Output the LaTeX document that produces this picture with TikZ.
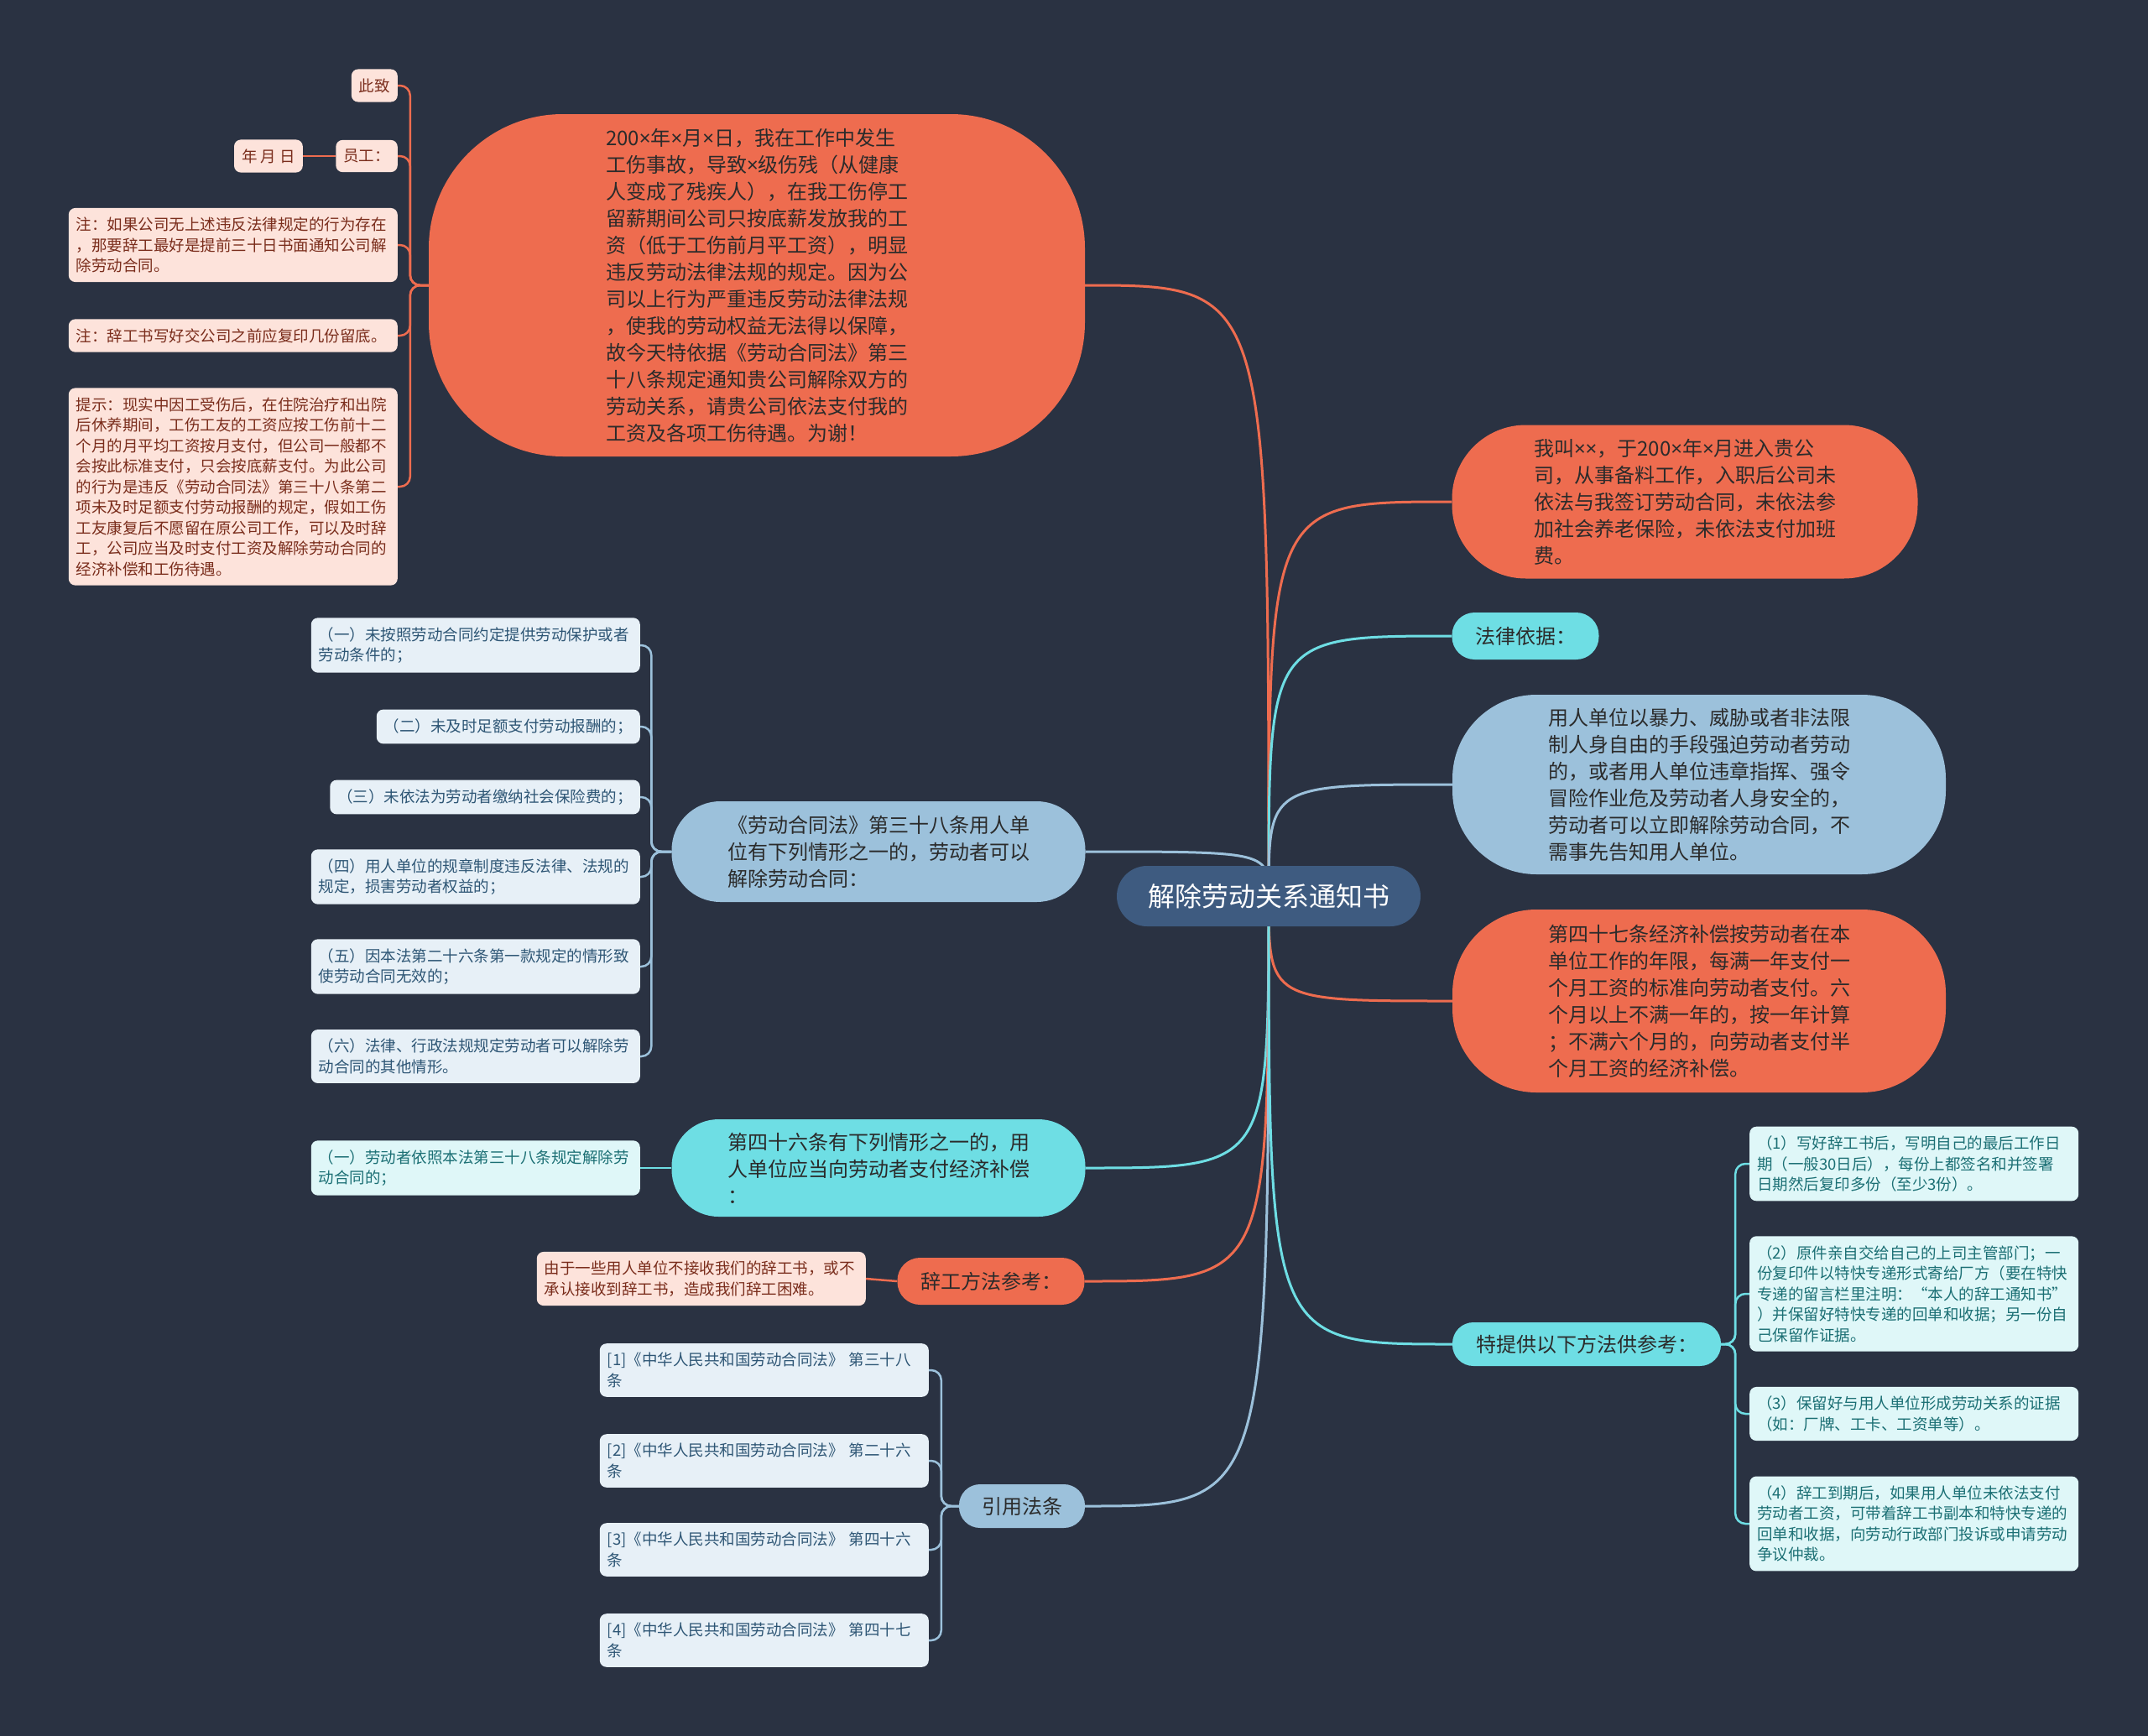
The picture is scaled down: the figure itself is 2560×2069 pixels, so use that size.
\documentclass[tikz,border=0pt]{standalone}
\usepackage{fontspec}
\usepackage{tikz}
\usetikzlibrary{backgrounds}
\newfontfamily\cjkfont{Noto Sans CJK SC}
\newfontfamily\latinfont{Noto Sans}
\newcommand{\tms}{{\latinfont ×}}
\definecolor{bgColor}{HTML}{2A3242}
\definecolor{topicColor}{HTML}{3E5B80}
\definecolor{orangeColor}{HTML}{EE6C4F}
\definecolor{blueColor}{HTML}{9CC1DB}
\definecolor{cyanColor}{HTML}{6EDEE4}
\definecolor{darkText}{HTML}{2B2B2B}
\definecolor{pinkLeaf}{HTML}{FDE3DB}
\definecolor{pinkText}{HTML}{7A2D1C}
\definecolor{blueLeaf}{HTML}{E7F0F7}
\definecolor{blueText}{HTML}{2E5675}
\definecolor{cyanLeaf}{HTML}{DFF7F8}
\definecolor{cyanText}{HTML}{1B6F74}
\tikzset{
topic node/.style={fill=topicColor, text=white, rounded corners=36pt, minimum width=362pt, minimum height=72pt, inner sep=0pt, font=\cjkfont\fontsize{32pt}{40pt}\selectfont},
%
branch node/.style={text=darkText, align=left, inner sep=0pt, font=\cjkfont\fontsize{24pt}{32pt}\selectfont},
orange branch/.style={branch node, fill=orangeColor},
blue branch/.style={branch node, fill=blueColor},
cyan branch/.style={branch node, fill=cyanColor},
%
leaf node/.style={align=left, rounded corners=8pt, inner xsep=9pt, inner ysep=11pt, font=\cjkfont\fontsize{18.5pt}{24.5pt}\selectfont},
wide leaf/.style={text width=374pt},
pink leaf/.style={leaf node, fill=pinkLeaf, text=pinkText},
blue leaf/.style={leaf node, fill=blueLeaf, text=blueText},
cyan leaf/.style={leaf node, fill=cyanLeaf, text=cyanText},
%
orange link/.style={orangeColor, line width=3pt},
blue link/.style={blueColor, line width=3pt},
cyan link/.style={cyanColor, line width=3pt},
orange twig/.style={orangeColor, line width=2.5pt, rounded corners=12pt},
blue twig/.style={blueColor, line width=2.5pt, rounded corners=12pt},
cyan twig/.style={cyanColor, line width=2.5pt, rounded corners=12pt},
}

\begin{document}
\begin{tikzpicture}[x=1pt,y=-1pt]
    \begin{scope}[on background layer]
        \fill[bgColor] (0,0) rectangle (2560,2069);
    \end{scope}
    \useasboundingbox (0,0) rectangle (2560,2069);

    \node[topic node] (topic) at (1512,1068) {解除劳动关系通知书};

    % left side
    \node[orange branch, minimum width=782pt, minimum height=408pt, rounded corners=160pt] (letter) at (902,340) {200\tms 年\tms 月\tms 日，我在工作中发生\\工伤事故，导致\tms 级伤残（从健康\\人变成了残疾人），在我工伤停工\\留薪期间公司只按底薪发放我的工\\资（低于工伤前月平工资），明显\\违反劳动法律法规的规定。因为公\\司以上行为严重违反劳动法律法规\\，使我的劳动权益无法得以保障，\\故今天特依据《劳动合同法》第三\\十八条规定通知贵公司解除双方的\\劳动关系，请贵公司依法支付我的\\工资及各项工伤待遇。为谢！};
    \node[blue branch, minimum width=493pt, minimum height=120pt, rounded corners=58pt] (art38) at (1047,1015) {《劳动合同法》第三十八条用人单\\位有下列情形之一的，劳动者可以\\解除劳动合同：};
    \node[cyan branch, minimum width=493pt, minimum height=116pt, rounded corners=56pt] (art46) at (1047,1392) {第四十六条有下列情形之一的，用\\人单位应当向劳动者支付经济补偿\\：};
    \node[orange branch, minimum width=223pt, minimum height=56pt, rounded corners=27pt] (resign) at (1181,1527) {辞工方法参考：};
    \node[blue branch, minimum width=150pt, minimum height=52pt, rounded corners=25pt] (cite) at (1218,1795) {引用法条};

    % right side
    \node[orange branch, minimum width=555pt, minimum height=183pt, rounded corners=88pt] (intro) at (2008,598) {我叫\tms\tms ，于200\tms 年\tms 月进入贵公\\司，从事备料工作，入职后公司未\\依法与我签订劳动合同，未依法参\\加社会养老保险，未依法支付加班\\费。};
    \node[cyan branch, minimum width=175pt, minimum height=56pt, rounded corners=27pt] (basis) at (1818,758) {法律依据：};
    \node[blue branch, minimum width=588pt, minimum height=214pt, rounded corners=100pt] (force) at (2025,935) {用人单位以暴力、威胁或者非法限\\制人身自由的手段强迫劳动者劳动\\的，或者用人单位违章指挥、强令\\冒险作业危及劳动者人身安全的，\\劳动者可以立即解除劳动合同，不\\需事先告知用人单位。};
    \node[orange branch, minimum width=588pt, minimum height=218pt, rounded corners=100pt] (art47) at (2025,1193) {第四十七条经济补偿按劳动者在本\\单位工作的年限，每满一年支付一\\个月工资的标准向劳动者支付。六\\个月以上不满一年的，按一年计算\\；不满六个月的，向劳动者支付半\\个月工资的经济补偿。};
    \node[cyan branch, minimum width=320pt, minimum height=52pt, rounded corners=25pt] (methods) at (1891,1602) {特提供以下方法供参考：};

    % leaves of the letter
    \node[pink leaf, anchor=east] (sincerely) at (474,102) {此致};
    \node[pink leaf, anchor=east] (staff) at (474,186) {员工：};
    \node[pink leaf, anchor=east] (date) at (361,186) {年 月 日};
    \node[pink leaf, wide leaf, anchor=east] (note1) at (474,292) {注：如果公司无上述违反法律规定的行为存在\\，那要辞工最好是提前三十日书面通知公司解\\除劳动合同。};
    \node[pink leaf, wide leaf, anchor=east] (note2) at (474,400) {注：辞工书写好交公司之前应复印几份留底。};
    \node[pink leaf, wide leaf, anchor=east] (hint) at (474,580) {提示：现实中因工受伤后，在住院治疗和出院\\后休养期间，工伤工友的工资应按工伤前十二\\个月的月平均工资按月支付，但公司一般都不\\会按此标准支付，只会按底薪支付。为此公司\\的行为是违反《劳动合同法》第三十八条第二\\项未及时足额支付劳动报酬的规定，假如工伤\\工友康复后不愿留在原公司工作，可以及时辞\\工，公司应当及时支付工资及解除劳动合同的\\经济补偿和工伤待遇。};

    % leaves of art. 38
    \node[blue leaf, wide leaf, anchor=east] (case1) at (763,769) {（一）未按照劳动合同约定提供劳动保护或者\\劳动条件的；};
    \node[blue leaf, anchor=east] (case2) at (763,866) {（二）未及时足额支付劳动报酬的；};
    \node[blue leaf, anchor=east] (case3) at (763,950) {（三）未依法为劳动者缴纳社会保险费的；};
    \node[blue leaf, wide leaf, anchor=east] (case4) at (763,1045) {（四）用人单位的规章制度违反法律、法规的\\规定，损害劳动者权益的；};
    \node[blue leaf, wide leaf, anchor=east] (case5) at (763,1152) {（五）因本法第二十六条第一款规定的情形致\\使劳动合同无效的；};
    \node[blue leaf, wide leaf, anchor=east] (case6) at (763,1259) {（六）法律、行政法规规定劳动者可以解除劳\\动合同的其他情形。};

    \node[cyan leaf, wide leaf, anchor=east] (pay1) at (763,1392) {（一）劳动者依照本法第三十八条规定解除劳\\动合同的；};
    \node[pink leaf, wide leaf, anchor=east] (hard) at (1032,1524) {由于一些用人单位不接收我们的辞工书，或不\\承认接收到辞工书，造成我们辞工困难。};

    \foreach \i/\y/\art in {1/1633/三十八,2/1741/二十六,3/1847/四十六,4/1955/四十七} {
        \node[blue leaf, wide leaf, anchor=east] (law\i) at (1107,\y) {[\i]《中华人民共和国劳动合同法》 第\art\\条};
    }

    % leaves of the methods
    \node[cyan leaf, wide leaf, anchor=west] (step1) at (2085,1387) {（1）写好辞工书后，写明自己的最后工作日\\期（一般30日后），每份上都签名和并签署\\日期然后复印多份（至少3份）。};
    \node[cyan leaf, wide leaf, anchor=west] (step2) at (2085,1542) {（2）原件亲自交给自己的上司主管部门；一\\份复印件以特快专递形式寄给厂方（要在特快\\专递的留言栏里注明：“本人的辞工通知书”\\）并保留好特快专递的回单和收据；另一份自\\己保留作证据。};
    \node[cyan leaf, wide leaf, anchor=west] (step3) at (2085,1685) {（3）保留好与用人单位形成劳动关系的证据\\（如：厂牌、工卡、工资单等）。};
    \node[cyan leaf, wide leaf, anchor=west] (step4) at (2085,1816) {（4）辞工到期后，如果用人单位未依法支付\\劳动者工资，可带着辞工书副本和特快专递的\\回单和收据，向劳动行政部门投诉或申请劳动\\争议仲裁。};

    \begin{scope}[on background layer]
        \draw[orange link] (topic.center) .. controls (topic.center |- letter.east) .. (letter.east);
        \draw[blue link] (topic.center) .. controls (topic.center |- art38.east) .. (art38.east);
        \draw[cyan link] (topic.center) .. controls (topic.center |- art46.east) .. (art46.east);
        \draw[orange link] (topic.center) .. controls (topic.center |- resign.east) .. (resign.east);
        \draw[blue link] (topic.center) .. controls (topic.center |- cite.east) .. (cite.east);
        \draw[orange link] (topic.center) .. controls (topic.center |- intro.west) .. (intro.west);
        \draw[cyan link] (topic.center) .. controls (topic.center |- basis.west) .. (basis.west);
        \draw[blue link] (topic.center) .. controls (topic.center |- force.west) .. (force.west);
        \draw[orange link] (topic.center) .. controls (topic.center |- art47.west) .. (art47.west);
        \draw[cyan link] (topic.center) .. controls (topic.center |- methods.west) .. (methods.west);

        \foreach \leaf in {sincerely,staff,note1,note2,hint}
            \draw[orange twig] (letter.west) -- ++(-22,0) |- (\leaf.east);
        \draw[orange twig] (staff) -- (date);
        \foreach \leaf in {case1,case2,case3,case4,case5,case6}
            \draw[blue twig] (art38.west) -- ++(-24,0) |- (\leaf.east);
        \draw[cyan twig] (art46.west) -- (pay1.east);
        \draw[orange twig] (resign.west) -- (hard.east);
        \foreach \i in {1,...,4}
            \draw[blue twig] (cite.west) -- ++(-21,0) |- (law\i.east);
        \foreach \leaf in {step1,step2,step3,step4}
            \draw[cyan twig] (methods.east) -- ++(17,0) |- (\leaf.west);
    \end{scope}
\end{tikzpicture}
\end{document}
